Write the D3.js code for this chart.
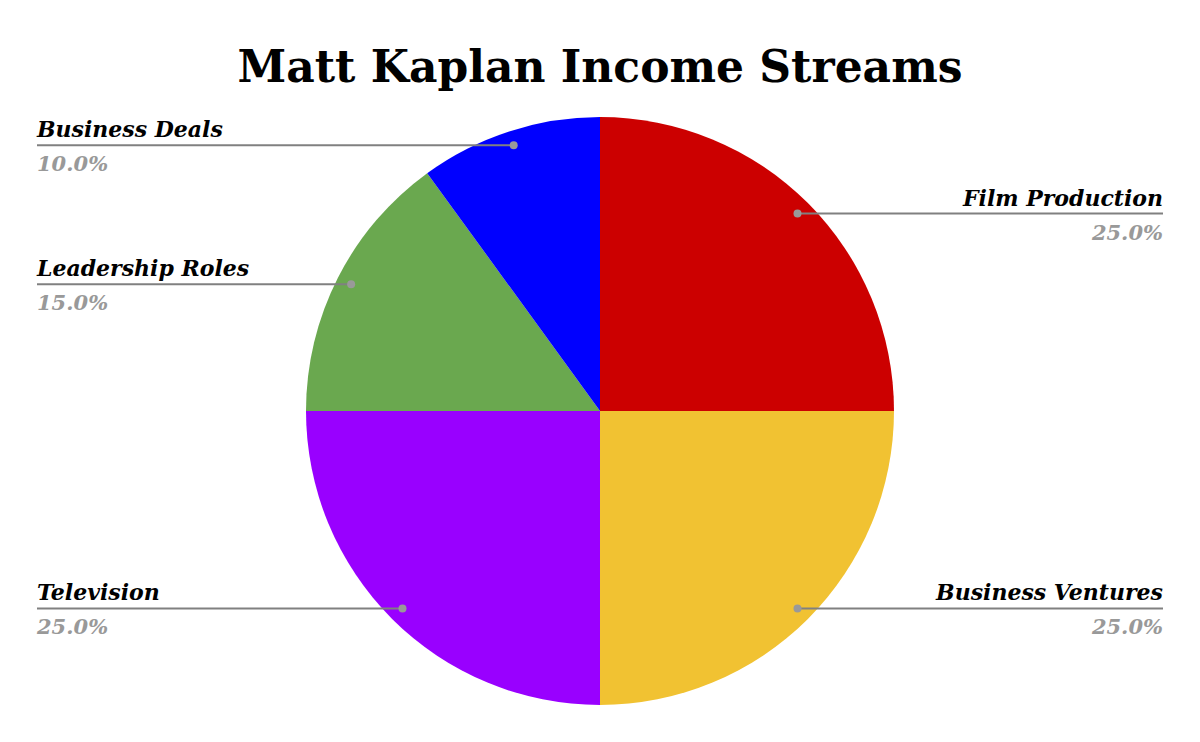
<!DOCTYPE html>
<html>
<head>
<meta charset="utf-8">
<script src="https://cdn.jsdelivr.net/npm/d3@7"></script>
<style>
  body { margin: 0; background: #fff; }
  svg { display: block; }
</style>
</head>
<body>
<svg id="chart"></svg>
<script>
// dados do grafico
const categories = ['Film Production', 'Business Ventures', 'Television', 'Leadership Roles', 'Business Deals'];
const values = [25, 25, 25, 15, 10];
const colors = ['#CC0000', '#F1C232', '#9900FF', '#6AA84F', '#0000FF'];
const title = 'Matt Kaplan Income Streams';

const width = 1200;
const height = 742;
const cx = 600, cy = 411;
const radius = 294;
const font = "Georgia, 'DejaVu Serif', serif";

const svg = d3.select('#chart')
  .attr('width', width)
  .attr('height', height);

svg.append('text')
  .attr('x', width / 2)
  .attr('y', 82)
  .attr('text-anchor', 'middle')
  .attr('font-family', font)
  .attr('font-weight', 'bold')
  .attr('font-size', 44)
  .attr('fill', '#000')
  .text(title);

const data = categories.map((c, i) => ({ name: c, value: values[i], color: colors[i] }));
const total = d3.sum(values);

const pie = d3.pie().value(d => d.value).sort(null);
const arc = d3.arc().innerRadius(0).outerRadius(radius);
const dotArc = d3.arc().innerRadius(radius * 0.95).outerRadius(radius * 0.95);

const g = svg.append('g').attr('transform', `translate(${cx},${cy})`);
const arcs = pie(data);

g.selectAll('path')
  .data(arcs)
  .enter()
  .append('path')
  .attr('d', arc)
  .attr('fill', d => d.data.color);

// rotulos com linhas
const leftX = 37, rightX = 1163;
const labels = svg.append('g');

arcs.forEach(a => {
  const [px, py] = dotArc.centroid(a);
  const x = cx + px, y = cy + py;
  const mid = (a.startAngle + a.endAngle) / 2;
  const right = mid < Math.PI;
  const endX = right ? rightX : leftX;
  const anchor = right ? 'end' : 'start';

  labels.append('line')
    .attr('x1', x).attr('y1', y)
    .attr('x2', endX).attr('y2', y)
    .attr('stroke', '#808080')
    .attr('stroke-width', 2);

  labels.append('circle')
    .attr('cx', x).attr('cy', y)
    .attr('r', 4)
    .attr('fill', '#999');

  labels.append('text')
    .attr('x', endX).attr('y', y - 8)
    .attr('text-anchor', anchor)
    .attr('font-family', font)
    .attr('font-weight', 'bold')
    .attr('font-style', 'italic')
    .attr('font-size', 22)
    .attr('fill', '#000')
    .text(a.data.name);

  labels.append('text')
    .attr('x', endX).attr('y', y + 26)
    .attr('text-anchor', anchor)
    .attr('font-family', font)
    .attr('font-weight', 'bold')
    .attr('font-style', 'italic')
    .attr('font-size', 21)
    .attr('fill', '#999')
    .text(d3.format('.1%')(a.data.value / total));
});
</script>
</body>
</html>
